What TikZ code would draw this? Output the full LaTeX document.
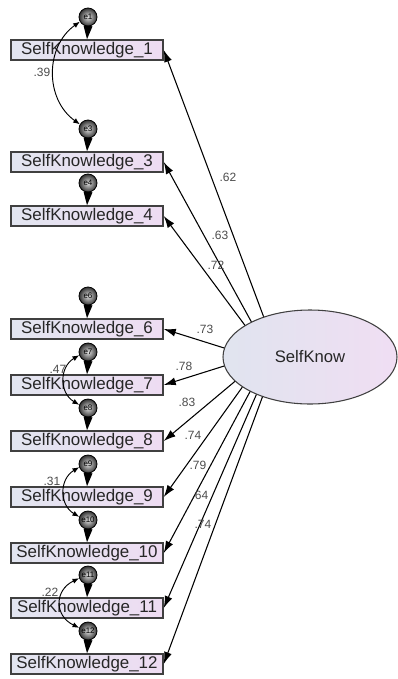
\documentclass[tikz,border=0pt]{standalone}
\usepackage{fontspec}
\setmainfont{Liberation Sans}
\usetikzlibrary{arrows.meta,shapes.geometric}
\definecolor{boxL}{HTML}{E2E5F0}
\definecolor{boxR}{HTML}{EEDCF2}
\definecolor{ellL}{HTML}{E0E4EF}
\definecolor{ellR}{HTML}{F0DEF3}
\begin{document}
\begin{tikzpicture}[x=0.75pt,y=-0.75pt,
  obs/.style={draw=black!75, line width=1.1pt, minimum width=114pt, minimum height=15pt,
    inner sep=0pt, left color=boxL, right color=boxR, text=black!85,
    font=\fontsize{12.7}{14}\selectfont},
  err/.style={circle, draw=black, line width=0.6pt, minimum size=13.5pt, inner sep=0pt,
    inner color=gray!25, outer color=black!80, font=\fontsize{6}{6}\selectfont},
  lat/.style={ellipse, draw=black!75, line width=0.8pt, minimum width=130.5pt,
    minimum height=70.5pt, left color=ellL, right color=ellR, text=black!85,
    font=\fontsize{12.5}{14}\selectfont},
  load/.style={-{Latex[length=9pt,width=6pt]}, line width=0.8pt},
  erra/.style={-{Triangle[length=10pt,width=6.5pt]}, line width=0.8pt},
  cov/.style={{Latex[length=5pt,width=4pt]}-{Latex[length=5pt,width=4pt]}, line width=0.7pt},
  lab/.style={font=\fontsize{9}{10}\selectfont, text=black!70, inner sep=0pt}]
\useasboundingbox (0,0) rectangle (398,679);

\node[lat] (F) at (310,357) {SelfKnow};

\foreach \n/\y in {1/50,3/162,4/216,6/329,7/385,8/441,9/497,10/553,11/608,12/664}{
  \node[obs] (S\n) at (87,\y) {SelfKnowledge\_\n};
  \node[err] (e\n) at (88,\y-33) {e\n};
  \draw[erra] (e\n.south) -- (S\n.north);
}

\draw[load] (F.139.6) -- (S1.east);
\draw[load] (F.149.7) -- (S3.east);
\draw[load] (F.154.8) -- (S4.east);
\draw[load] (F.174) -- (S6.east);
\draw[load] (F.186.7) -- (S7.east);
\draw[load] (F.198.4) -- (S8.east);
\draw[load] (F.204.5) -- (S9.east);
\draw[load] (F.210.3) -- (S10.east);
\draw[load] (F.215.6) -- (S11.east);
\draw[load] (F.220.4) -- (S12.east);

\node[lab] (l1) at (228,177) {.62};
\node[lab] (l3) at (220,235) {.63};
\node[lab] (l4) at (216,265) {.72};
\node[lab] (l6) at (205,329) {.73};
\node[lab] (l7) at (184,366) {.78};
\node[lab] (l8) at (187,402) {.83};
\node[lab] (l9) at (193,435) {.74};
\node[lab] (l10) at (198,465) {.79};
\node[lab] (l11) at (200,495) {.64};
\node[lab] (l12) at (203,524) {.74};

\draw[cov] (e1.210) .. controls +(-35,25) and +(-35,-25) .. (e3.150);
\draw[cov] (e7.200) .. controls +(-20,12) and +(-20,-12) .. (e8.160);
\draw[cov] (e9.200) .. controls +(-20,12) and +(-20,-12) .. (e10.160);
\draw[cov] (e11.200) .. controls +(-25,12) and +(-25,-12) .. (e12.160);

\node[lab] (c1) at (42,72) {.39};
\node[lab] (c7) at (58,369) {.47};
\node[lab] (c9) at (52,481) {.31};
\node[lab] (c11) at (50,592) {.22};
\end{tikzpicture}
\end{document}
